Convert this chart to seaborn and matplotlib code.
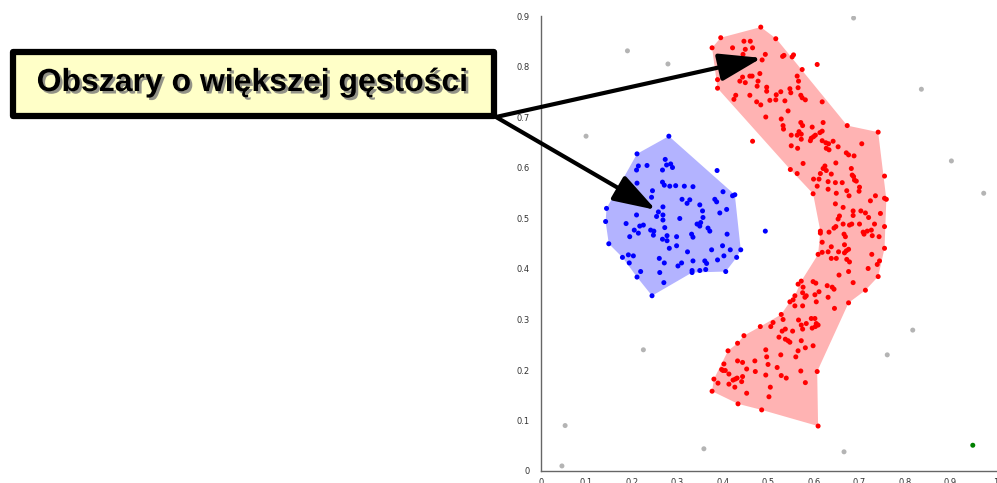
import matplotlib
matplotlib.use("Agg")
import matplotlib.pyplot as plt
import matplotlib.patheffects as pe
from matplotlib.patches import FancyBboxPatch
import numpy as np
import pandas as pd
import seaborn as sns

# ---------------- data ----------------
blue_points = [
    (0.281, 0.663), (0.211, 0.628), (0.273, 0.617), (0.214, 0.604), (0.233, 0.605),
    (0.276, 0.606), (0.285, 0.608), (0.210, 0.596), (0.267, 0.596), (0.289, 0.601),
    (0.387, 0.595), (0.211, 0.570), (0.267, 0.572), (0.271, 0.566), (0.283, 0.564),
    (0.296, 0.565), (0.315, 0.564), (0.334, 0.563), (0.199, 0.562), (0.245, 0.555),
    (0.400, 0.553), (0.421, 0.545), (0.426, 0.547), (0.243, 0.542), (0.310, 0.538),
    (0.327, 0.537), (0.321, 0.530), (0.382, 0.538), (0.386, 0.533), (0.349, 0.527),
    (0.408, 0.518), (0.144, 0.520), (0.268, 0.523), (0.210, 0.507), (0.258, 0.513),
    (0.254, 0.504), (0.268, 0.507), (0.355, 0.515), (0.393, 0.511), (0.305, 0.500),
    (0.356, 0.502), (0.268, 0.497), (0.142, 0.494), (0.187, 0.490), (0.225, 0.487),
    (0.217, 0.485), (0.343, 0.489), (0.349, 0.485), (0.351, 0.492), (0.205, 0.477),
    (0.214, 0.471), (0.241, 0.477), (0.248, 0.475), (0.247, 0.467), (0.272, 0.482),
    (0.367, 0.481), (0.371, 0.475), (0.195, 0.464), (0.277, 0.466), (0.298, 0.464),
    (0.331, 0.469), (0.334, 0.463), (0.409, 0.469), (0.267, 0.459), (0.277, 0.456),
    (0.149, 0.450), (0.282, 0.441), (0.298, 0.446), (0.399, 0.446), (0.375, 0.438),
    (0.322, 0.434), (0.416, 0.438), (0.439, 0.438), (0.179, 0.423), (0.192, 0.428),
    (0.203, 0.426), (0.402, 0.426), (0.430, 0.423), (0.260, 0.421), (0.194, 0.412),
    (0.271, 0.412), (0.309, 0.412), (0.334, 0.416), (0.360, 0.416), (0.364, 0.411),
    (0.388, 0.418), (0.301, 0.406), (0.332, 0.397), (0.332, 0.393), (0.349, 0.397),
    (0.362, 0.399), (0.406, 0.395), (0.219, 0.395), (0.261, 0.393), (0.211, 0.384),
    (0.270, 0.373), (0.244, 0.347), (0.493, 0.475),
]

red_points = [
    (0.483, 0.879), (0.395, 0.858), (0.516, 0.856), (0.376, 0.838), (0.446, 0.851),
    (0.460, 0.851), (0.421, 0.838), (0.449, 0.835), (0.465, 0.838), (0.493, 0.825),
    (0.444, 0.825), (0.531, 0.821), (0.534, 0.823), (0.552, 0.820), (0.555, 0.824),
    (0.486, 0.814), (0.405, 0.799), (0.607, 0.805), (0.574, 0.795), (0.481, 0.787),
    (0.443, 0.780), (0.459, 0.782), (0.464, 0.782), (0.388, 0.775), (0.437, 0.772),
    (0.449, 0.769), (0.477, 0.772), (0.563, 0.782), (0.566, 0.772), (0.388, 0.758),
    (0.475, 0.762), (0.496, 0.760), (0.496, 0.752), (0.565, 0.759), (0.547, 0.757),
    (0.549, 0.749), (0.527, 0.751), (0.517, 0.745), (0.428, 0.744), (0.424, 0.736),
    (0.459, 0.744), (0.571, 0.744), (0.574, 0.739), (0.581, 0.735), (0.503, 0.734),
    (0.516, 0.735), (0.474, 0.731), (0.483, 0.725), (0.536, 0.733), (0.618, 0.731),
    (0.494, 0.701), (0.465, 0.653),
    (0.543, 0.713), (0.528, 0.697), (0.532, 0.684), (0.533, 0.677), (0.571, 0.690),
    (0.575, 0.684), (0.596, 0.681), (0.620, 0.690), (0.673, 0.684), (0.741, 0.671),
    (0.550, 0.665), (0.563, 0.665), (0.567, 0.672), (0.572, 0.667), (0.572, 0.657),
    (0.594, 0.659), (0.599, 0.662), (0.603, 0.665), (0.613, 0.670), (0.618, 0.673),
    (0.592, 0.654), (0.618, 0.654), (0.626, 0.650), (0.632, 0.648), (0.642, 0.653),
    (0.627, 0.639), (0.633, 0.636), (0.653, 0.642), (0.550, 0.644), (0.564, 0.639),
    (0.705, 0.648), (0.671, 0.630), (0.676, 0.626), (0.688, 0.624), (0.576, 0.609),
    (0.648, 0.610), (0.624, 0.604), (0.620, 0.599), (0.627, 0.595), (0.548, 0.597),
    (0.563, 0.589), (0.614, 0.589), (0.638, 0.588), (0.682, 0.599), (0.684, 0.586),
    (0.687, 0.583), (0.689, 0.576), (0.693, 0.574), (0.755, 0.584), (0.599, 0.578),
    (0.611, 0.578), (0.631, 0.573), (0.647, 0.571), (0.662, 0.571), (0.607, 0.564),
    (0.631, 0.558), (0.672, 0.555), (0.700, 0.562), (0.699, 0.554), (0.649, 0.550),
    (0.598, 0.549), (0.677, 0.545), (0.735, 0.545), (0.755, 0.540), (0.759, 0.538),
    (0.647, 0.529), (0.664, 0.522), (0.724, 0.535), (0.686, 0.515), (0.686, 0.506),
    (0.703, 0.515), (0.713, 0.511), (0.746, 0.510), (0.656, 0.505), (0.653, 0.499),
    (0.720, 0.502), (0.664, 0.489), (0.648, 0.484), (0.644, 0.481), (0.678, 0.487),
    (0.683, 0.489), (0.700, 0.489), (0.733, 0.489), (0.755, 0.484), (0.614, 0.475),
    (0.614, 0.471), (0.633, 0.473), (0.666, 0.469), (0.669, 0.464), (0.708, 0.473),
    (0.710, 0.469), (0.717, 0.475), (0.726, 0.477), (0.728, 0.466), (0.743, 0.464),
    (0.618, 0.453), (0.638, 0.444), (0.667, 0.448), (0.609, 0.429), (0.618, 0.433),
    (0.631, 0.434), (0.654, 0.434), (0.667, 0.432), (0.671, 0.436), (0.676, 0.439),
    (0.727, 0.429), (0.755, 0.441), (0.638, 0.421), (0.649, 0.421), (0.672, 0.419),
    (0.678, 0.414), (0.744, 0.416), (0.739, 0.409), (0.719, 0.401), (0.676, 0.395),
    (0.655, 0.388), (0.741, 0.385), (0.572, 0.376), (0.565, 0.370), (0.598, 0.375),
    (0.604, 0.372), (0.686, 0.373), (0.629, 0.367), (0.576, 0.364), (0.640, 0.364),
    (0.644, 0.360), (0.713, 0.358), (0.676, 0.333), (0.645, 0.322),
    (0.558, 0.347), (0.554, 0.339), (0.575, 0.353), (0.580, 0.344), (0.583, 0.347),
    (0.602, 0.349), (0.611, 0.355), (0.547, 0.335), (0.558, 0.327), (0.575, 0.327),
    (0.605, 0.335), (0.631, 0.344), (0.528, 0.310), (0.532, 0.300), (0.566, 0.299),
    (0.572, 0.289), (0.575, 0.281), (0.594, 0.302), (0.602, 0.302), (0.605, 0.292),
    (0.609, 0.289), (0.603, 0.286), (0.596, 0.283), (0.583, 0.292), (0.482, 0.286),
    (0.505, 0.286), (0.510, 0.294), (0.530, 0.277), (0.537, 0.281), (0.553, 0.277),
    (0.446, 0.268), (0.523, 0.265), (0.537, 0.261), (0.543, 0.258), (0.547, 0.255),
    (0.572, 0.258), (0.432, 0.253), (0.598, 0.248), (0.581, 0.244), (0.494, 0.240),
    (0.411, 0.238), (0.565, 0.238), (0.527, 0.230), (0.496, 0.226), (0.560, 0.226),
    (0.432, 0.218), (0.443, 0.215), (0.470, 0.218), (0.499, 0.211), (0.402, 0.212),
    (0.452, 0.202), (0.519, 0.205), (0.397, 0.201), (0.400, 0.199), (0.405, 0.199),
    (0.571, 0.198), (0.607, 0.197), (0.471, 0.197), (0.413, 0.192), (0.494, 0.190),
    (0.528, 0.189), (0.539, 0.184), (0.443, 0.187), (0.380, 0.182), (0.422, 0.180),
    (0.427, 0.182), (0.431, 0.184), (0.441, 0.177), (0.389, 0.174), (0.413, 0.172),
    (0.581, 0.175), (0.426, 0.166), (0.504, 0.166), (0.376, 0.158), (0.452, 0.154),
    (0.501, 0.147), (0.433, 0.133), (0.485, 0.121), (0.609, 0.089),
]

noise_points = [
    (0.190, 0.832), (0.279, 0.806), (0.099, 0.663), (0.687, 0.897), (0.836, 0.756),
    (0.902, 0.614), (0.973, 0.550), (0.817, 0.279), (0.761, 0.230), (0.225, 0.240),
    (0.053, 0.090), (0.046, 0.010), (0.358, 0.044), (0.666, 0.038),
]

green_points = [(0.949, 0.051)]

red_hull = [
    (0.395, 0.858), (0.483, 0.879), (0.517, 0.856), (0.673, 0.684), (0.741, 0.671),
    (0.759, 0.538), (0.755, 0.441), (0.741, 0.385), (0.713, 0.358), (0.676, 0.333),
    (0.607, 0.197), (0.609, 0.089), (0.485, 0.121), (0.433, 0.133), (0.376, 0.158),
    (0.380, 0.182), (0.411, 0.238), (0.432, 0.253), (0.446, 0.268), (0.482, 0.286),
    (0.528, 0.310), (0.547, 0.335), (0.554, 0.339), (0.572, 0.376), (0.609, 0.429),
    (0.614, 0.475), (0.598, 0.549), (0.548, 0.597), (0.388, 0.758), (0.376, 0.838),
]

blue_hull = [
    (0.281, 0.663), (0.426, 0.547), (0.439, 0.438), (0.430, 0.423), (0.406, 0.395),
    (0.332, 0.393), (0.244, 0.347), (0.211, 0.384), (0.179, 0.423), (0.149, 0.450),
    (0.142, 0.494), (0.144, 0.520), (0.211, 0.628),
]

x_ticks = [0, 0.1, 0.2, 0.3, 0.4, 0.5, 0.6, 0.7, 0.8, 0.9, 1.0]
x_tick_labels = ["0", "0.1", "0.2", "0.3", "0.4", "0.5", "0.6", "0.7", "0.8", "0.9", "1"]
y_ticks = [0, 0.1, 0.2, 0.3, 0.4, 0.5, 0.6, 0.7, 0.8, 0.9]
y_tick_labels = ["0", "0.1", "0.2", "0.3", "0.4", "0.5", "0.6", "0.7", "0.8", "0.9"]

callout_text = "Obszary o większej gęstości"
arrow_targets = [(0.485, 0.818), (0.2525, 0.517)]

# ---------------- build table ----------------
frames = []
for name, pts in [("noise", noise_points), ("red", red_points),
                  ("blue", blue_points), ("green", green_points)]:
    arr = np.array(pts)
    frames.append(pd.DataFrame({"x": arr[:, 0], "y": arr[:, 1], "group": name}))
df = pd.concat(frames, ignore_index=True)

palette = {"noise": "#b4b4b4", "red": "#ff0000", "blue": "#0000ff", "green": "#008000"}

# ---------------- figure ----------------
sns.set_theme(style="white")
plt.rcParams["font.family"] = ["DejaVu Sans"]

W, H = 997, 483
fig = plt.figure(figsize=(W / 100, H / 100), dpi=100)
ax = fig.add_axes([541 / W, 12 / H, 455 / W, 454.5 / H])

rh = np.array(red_hull)
bh = np.array(blue_hull)
ax.fill(rh[:, 0], rh[:, 1], color="#ffb3b3", lw=0, zorder=1)
ax.fill(bh[:, 0], bh[:, 1], color="#b3b3ff", lw=0, zorder=1)

sns.scatterplot(data=df, x="x", y="y", hue="group", palette=palette, s=13,
                linewidth=0, legend=False, ax=ax, zorder=3)

ax.set_xlim(0, 1)
ax.set_ylim(0, 0.9)
ax.set_xticks(x_ticks)
ax.set_xticklabels(x_tick_labels)
ax.set_yticks(y_ticks)
ax.set_yticklabels(y_tick_labels)
ax.set_xlabel("")
ax.set_ylabel("")
for s in ["top", "right"]:
    ax.spines[s].set_visible(False)
for s in ["left", "bottom"]:
    ax.spines[s].set_color("#666666")
    ax.spines[s].set_linewidth(1.0)
ax.tick_params(axis="both", which="major", direction="inout", length=6,
               width=1.2, color="#aaaaaa", labelsize=6, labelcolor="#333333")
ax.tick_params(axis="y", pad=5)
ax.tick_params(axis="x", pad=2)
ax.set_facecolor("white")

# ---------------- callout box ----------------
box = FancyBboxPatch((13 / W, (H - 116) / H), 481 / W, 64 / H,
                     boxstyle="square,pad=0", transform=fig.transFigure,
                     facecolor="#ffffc8", edgecolor="black", linewidth=4.5,
                     joinstyle="round", zorder=5)
fig.patches.append(box)
fig.text(252.5 / W, (H - 91) / H, callout_text, ha="center", va="baseline",
         fontsize=23, fontweight="bold", family=["Liberation Sans", "DejaVu Sans"],
         color="black", zorder=6,
         path_effects=[pe.withSimplePatchShadow(offset=(1.8, -1.8),
                                                shadow_rgbFace="#777777", alpha=0.8)])

# ---------------- arrows ----------------
for tx, ty in arrow_targets:
    ax.annotate("", xy=(tx, ty), xycoords="data",
                xytext=(496 / W, (H - 117) / H), textcoords="figure fraction",
                arrowprops=dict(arrowstyle="-|>,head_length=2.6,head_width=0.85",
                                color="black", lw=3, shrinkA=0, shrinkB=0,
                                mutation_scale=10),
                annotation_clip=False, zorder=7)

fig.savefig("out.png", dpi=100)
